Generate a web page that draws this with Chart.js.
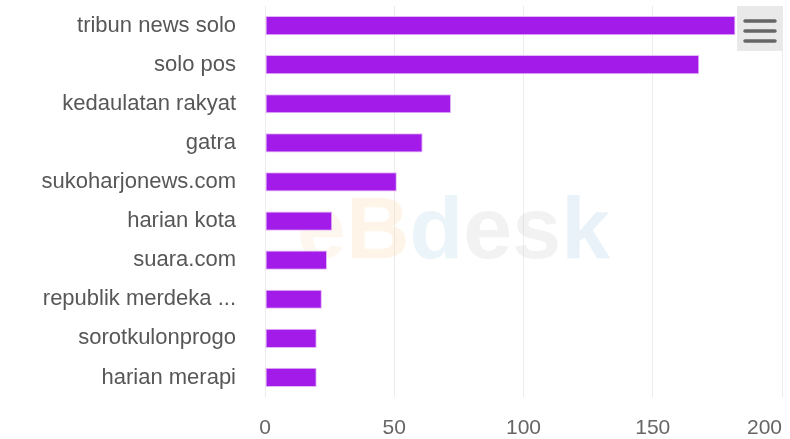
<!DOCTYPE html>
<html>
<head>
<meta charset="utf-8">
<script src="https://cdn.jsdelivr.net/npm/chart.js@4/dist/chart.umd.min.js"></script>
<style>
  html, body { margin: 0; padding: 0; background: #fff; }
  #wrap { width: 790px; height: 439px; position: relative; }
</style>
</head>
<body>
<div id="wrap"><canvas id="chart"></canvas></div>
<script>
// media names and their counts
const categories = ['tribun news solo', 'solo pos', 'kedaulatan rakyat', 'gatra', 'sukoharjonews.com',
  'harian kota', 'suara.com', 'republik merdeka ...', 'sorotkulonprogo', 'harian merapi'];
const counts = [182, 168, 72, 61, 51, 26, 24, 22, 20, 20];
const xTicks = [0, 50, 100, 150, 200];

const fontFamily = '"Liberation Sans", Arial, sans-serif';

// faint logo behind the bars, last x label pulled inside, menu button in the corner
const decorations = {
  id: 'decorations',
  beforeDatasetsDraw(chart) {
    const ctx = chart.ctx;
    ctx.save();
    ctx.font = 'bold 88px ' + fontFamily;
    ctx.textBaseline = 'alphabetic';
    const parts = [
      ['e', 'rgba(252, 210, 165, 0.18)'],
      ['B', 'rgba(252, 210, 165, 0.25)'],
      ['d', 'rgba(175, 210, 230, 0.25)'],
      ['e', 'rgba(205, 205, 205, 0.25)'],
      ['s', 'rgba(205, 205, 205, 0.25)'],
      ['k', 'rgba(175, 210, 230, 0.28)']
    ];
    let x = 297;
    parts.forEach(([ch, col]) => {
      ctx.fillStyle = col;
      ctx.fillText(ch, x, 258);
      x += ctx.measureText(ch).width;
    });
    ctx.restore();
  },
  afterDraw(chart) {
    const ctx = chart.ctx;
    const xs = chart.scales.x;
    ctx.save();
    // Highcharts-style: last tick label kept inside the plot
    const last = xTicks[xTicks.length - 1];
    ctx.font = '21px ' + fontFamily;
    ctx.fillStyle = '#666';
    ctx.textAlign = 'right';
    ctx.textBaseline = 'middle';
    ctx.fillText(String(last), xs.getPixelForValue(last), xs.top + 19 + 21 * 1.2 / 2);

    ctx.fillStyle = '#e9e9e9';
    ctx.fillRect(737, 6, 46, 45);
    ctx.strokeStyle = '#666';
    ctx.lineWidth = 3.5;
    ctx.lineCap = 'round';
    [21, 31, 41].forEach(yy => {
      ctx.beginPath();
      ctx.moveTo(745, yy);
      ctx.lineTo(775, yy);
      ctx.stroke();
    });
    ctx.restore();
  }
};

new Chart(document.getElementById('chart'), {
  type: 'bar',
  data: {
    labels: categories,
    datasets: [{
      data: counts,
      backgroundColor: '#a21be8',
      borderColor: '#e4b8f8',
      borderWidth: 1,
      borderSkipped: false,
      categoryPercentage: 1,
      barPercentage: 0.49
    }]
  },
  options: {
    indexAxis: 'y',
    responsive: true,
    maintainAspectRatio: false,
    animation: false,
    layout: { padding: { top: 6, right: 8, left: 0, bottom: 0 } },
    plugins: {
      legend: { display: false },
      tooltip: { enabled: false }
    },
    scales: {
      x: {
        min: 0,
        max: 200,
        afterBuildTicks(scale) { scale.ticks = xTicks.map(v => ({ value: v })); },
        afterFit(scale) {
          scale.height = 42;
          scale.paddingLeft = 0;
          scale.paddingRight = 0;
        },
        grid: { color: '#ececec', drawTicks: false },
        border: { display: false },
        ticks: {
          color: '#666',
          padding: 19,
          callback: v => (v === xTicks[xTicks.length - 1] ? '' : v),
          font: { family: fontFamily, size: 21 }
        }
      },
      y: {
        afterFit(scale) {
          scale.width = 265;
          scale.paddingTop = 0;
          scale.paddingBottom = 0;
        },
        grid: { display: false, drawTicks: false },
        border: { display: false },
        ticks: {
          color: '#575757',
          padding: 29,
          font: { family: fontFamily, size: 22 }
        }
      }
    }
  },
  plugins: [decorations]
});
</script>
</body>
</html>
